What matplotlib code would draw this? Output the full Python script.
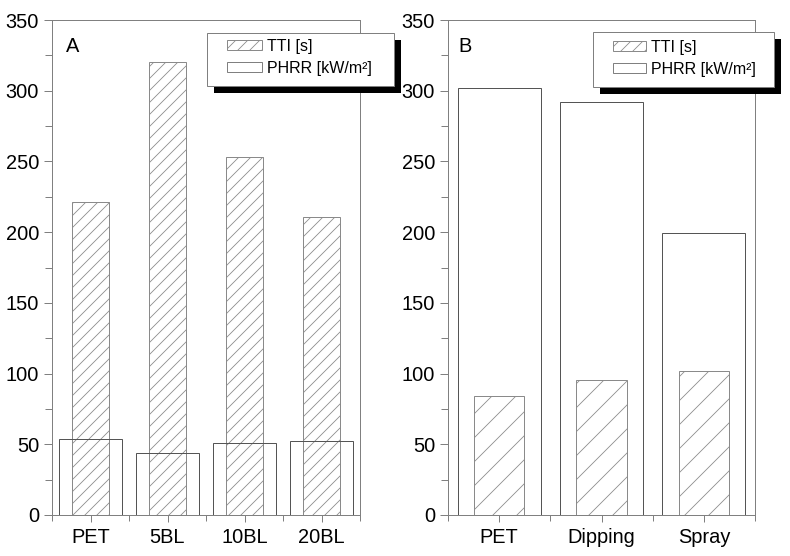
import numpy as np
import matplotlib
matplotlib.use('Agg')
import matplotlib.pyplot as plt
from matplotlib.patches import Patch, Rectangle
from matplotlib.ticker import MultipleLocator, FixedLocator

# ---- data ----
cats_a = ['PET', '5BL', '10BL', '20BL']
tti_a = [221, 320, 253, 211]
phrr_a = [53.5, 44, 51, 52]

cats_b = ['PET', 'Dipping', 'Spray']
tti_b = [84, 95.5, 102]
phrr_b = [302, 292, 199.5]

yticks = [0, 50, 100, 150, 200, 250, 300, 350]
legend_labels = ['TTI [s]', 'PHRR [kW/m²]']
panel_labels = ['A', 'B']

# ---- style ----
DPI = 72
W, H = 790, 556
SPINE = '#808080'
TTI_EDGE = '#8a8a8a'
PHRR_EDGE = '#555555'

plt.rcParams['font.family'] = ['Liberation Sans', 'DejaVu Sans']
plt.rcParams['hatch.linewidth'] = 0.8

fig = plt.figure(figsize=(W / DPI, H / DPI), dpi=DPI)


def px_axes(x0, x1, y0, y1):
    return fig.add_axes([x0 / W, 1 - y1 / H, (x1 - x0) / W, (y1 - y0) / H])


def draw(ax, cats, tti, phrr, hatch, label, label_x):
    x = np.arange(len(cats))
    ax.bar(x, tti, width=0.49, facecolor='white', edgecolor=TTI_EDGE,
           hatch=hatch, linewidth=1, zorder=2)
    ax.bar(x, phrr, width=0.81, facecolor='none', edgecolor=PHRR_EDGE,
           linewidth=1, zorder=3)
    ax.set_xlim(-0.5, len(cats) - 0.5)
    ax.set_ylim(0, 350)
    ax.set_xticks(x)
    ax.set_xticklabels(cats)
    ax.xaxis.set_minor_locator(FixedLocator(np.arange(len(cats) + 1) - 0.5))
    ax.set_yticks(yticks)
    ax.yaxis.set_minor_locator(MultipleLocator(25))
    ax.tick_params(which='both', direction='out', color=SPINE, width=1,
                   labelsize=20)
    ax.tick_params(axis='y', which='major', length=8, pad=5)
    ax.tick_params(axis='y', which='minor', length=7)
    ax.tick_params(axis='x', which='major', length=7, pad=6)
    ax.tick_params(axis='x', which='minor', length=6)
    for s in ax.spines.values():
        s.set_color(SPINE)
        s.set_linewidth(1)
    ax.text(label_x, 0.935, label, transform=ax.transAxes, fontsize=20,
            va='baseline')


def legend_box(box, handle_left, row_top, hl):
    x0, y0, x1, y1 = box
    off = 7
    shadow = Rectangle(((x0 + off) / W, 1 - (y1 + off) / H),
                       (x1 - x0) / W, (y1 - y0) / H,
                       transform=fig.transFigure, facecolor='black',
                       edgecolor='none', zorder=5)
    frame = Rectangle((x0 / W, 1 - y1 / H), (x1 - x0) / W, (y1 - y0) / H,
                      transform=fig.transFigure, facecolor='white',
                      edgecolor=SPINE, linewidth=1, zorder=6)
    fig.patches.extend([shadow, frame])
    handles = [Patch(facecolor='white', edgecolor=TTI_EDGE, hatch='//',
                     linewidth=1),
               Patch(facecolor='white', edgecolor=SPINE, linewidth=1)]
    leg = fig.legend(handles, legend_labels, loc='upper left',
                     bbox_to_anchor=(handle_left / W, 1 - row_top / H),
                     frameon=False, fontsize=16, handlelength=hl,
                     handleheight=0.6, handletextpad=0.3, labelspacing=0.42,
                     borderpad=0, borderaxespad=0)
    leg.set_zorder(7)


ax_a = px_axes(52, 360, 20, 515)
ax_b = px_axes(448, 755, 20, 515)

draw(ax_a, cats_a, tti_a, phrr_a, '//', panel_labels[0], 0.045)
draw(ax_b, cats_b, tti_b, phrr_b, '/', panel_labels[1], 0.035)

legend_box((207, 33, 394, 86), 227, 39, 2.2)
legend_box((593, 32, 774, 87), 613, 40, 2.05)

fig.savefig('out.png', dpi=DPI)
